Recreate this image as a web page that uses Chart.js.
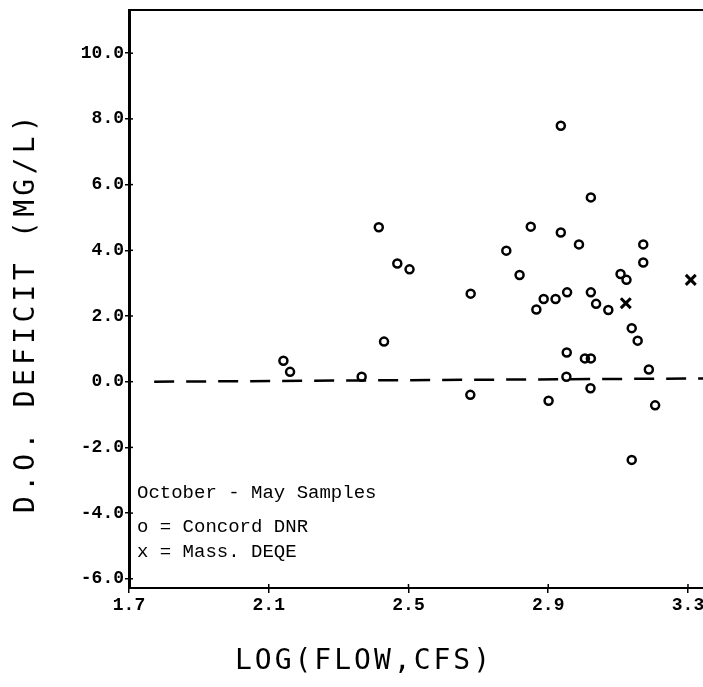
<!DOCTYPE html>
<html>
<head>
<meta charset="utf-8">
<script src="https://cdn.jsdelivr.net/npm/chart.js@4/dist/chart.umd.min.js"></script>
<style>
html,body{margin:0;padding:0;background:#fff;}
canvas{display:block;}
</style>
</head>
<body>
<canvas id="c" width="703" height="687"></canvas>
<script>
// ---- data ----
const xTicks = [1.7, 2.1, 2.5, 2.9, 3.3];
const yTicks = [-6, -4, -2, 0, 2, 4, 6, 8, 10];

// Concord DNR (o)
const dnrLogFlow = [2.142, 2.161, 2.366, 2.430, 2.415, 2.468, 2.503, 2.678, 2.677, 2.780,
                    2.818, 2.850, 2.866, 2.887, 2.921, 2.901, 2.936, 2.936, 2.954, 2.953,
                    2.952, 2.988, 3.005, 3.022, 3.021, 3.022, 3.022, 3.037, 3.072, 3.107,
                    3.124, 3.139, 3.156, 3.139, 3.172, 3.172, 3.188, 3.206];
const dnrDeficit = [0.64, 0.30, 0.15, 1.22, 4.70, 3.60, 3.42, 2.68, -0.40, 3.99,
                    3.25, 4.72, 2.20, 2.52, 2.52, -0.58, 7.79, 4.54, 2.72, 0.89,
                    0.15, 4.18, 0.71, 0.71, -0.20, 5.61, 2.72, 2.37, 2.18, 3.28,
                    3.10, 1.63, 1.25, -2.38, 4.18, 3.63, 0.37, -0.72];

// Mass. DEQE (x)
const deqeLogFlow = [3.122, 3.308];
const deqeDeficit = [2.39, 3.10];

// dashed reference line
const refLogFlow = [1.772, 3.343];
const refDeficit = [0.0, 0.1];

const xTitle = 'LOG(FLOW,CFS)';
const yTitle = 'D.O. DEFICIT (MG/L)';
const legendLines = ['October - May Samples', 'o = Concord DNR', 'x = Mass. DEQE'];

const toPts = (xs, ys) => xs.map((x, i) => ({x: x, y: ys[i]}));

const tickFont = {family: '"Liberation Mono", "Courier New", monospace', size: 18, weight: 'bold'};

const decorPlugin = {
  id: 'decor',
  afterDraw(chart) {
    const ctx = chart.ctx;
    const a = chart.chartArea;
    const xs = chart.scales.x, ys = chart.scales.y;
    ctx.save();
    ctx.strokeStyle = '#000';
    ctx.fillStyle = '#000';
    // top frame line
    ctx.lineWidth = 2;
    ctx.beginPath();
    ctx.moveTo(a.left, a.top);
    ctx.lineTo(a.right, a.top);
    ctx.stroke();
    // inner halves of the tick crosses
    ctx.lineWidth = 1.5;
    ys.ticks.forEach(t => {
      const py = ys.getPixelForValue(t.value);
      ctx.beginPath(); ctx.moveTo(a.left, py); ctx.lineTo(a.left + 4, py); ctx.stroke();
    });
    xs.ticks.forEach(t => {
      const px = xs.getPixelForValue(t.value);
      ctx.beginPath(); ctx.moveTo(px, a.bottom); ctx.lineTo(px, a.bottom - 4); ctx.stroke();
    });
    // axis titles
    ctx.font = '28px "DejaVu Sans Mono", monospace';
    ctx.textAlign = 'center';
    ctx.textBaseline = 'middle';
    ctx.letterSpacing = '3px';
    ctx.fillText(xTitle, 364, 662);
    ctx.save();
    ctx.letterSpacing = '4.3px';
    ctx.translate(27, 312);
    ctx.rotate(-Math.PI / 2);
    ctx.fillText(yTitle, 0, 0);
    ctx.restore();
    // legend text
    ctx.letterSpacing = '0px';
    ctx.font = '19px "Liberation Mono", "Courier New", monospace';
    ctx.textAlign = 'left';
    const ly = [493, 527, 552];
    legendLines.forEach((s, i) => ctx.fillText(s, 137, ly[i]));
    ctx.restore();
  }
};

new Chart(document.getElementById('c'), {
  type: 'scatter',
  data: {
    datasets: [
      {
        label: 'Concord DNR',
        data: toPts(dnrLogFlow, dnrDeficit),
        pointStyle: 'circle',
        pointRadius: 4,
        pointBorderWidth: 2.5,
        borderColor: '#000',
        backgroundColor: 'rgba(255,255,255,0)',
        showLine: false
      },
      {
        label: 'Mass. DEQE',
        data: toPts(deqeLogFlow, deqeDeficit),
        pointStyle: 'crossRot',
        pointRadius: 7,
        pointBorderWidth: 3,
        borderColor: '#000',
        backgroundColor: '#000',
        showLine: false
      },
      {
        label: 'zero',
        type: 'line',
        data: toPts(refLogFlow, refDeficit),
        borderColor: '#000',
        borderWidth: 2.5,
        borderDash: [20, 12],
        pointRadius: 0,
        fill: false
      }
    ]
  },
  options: {
    responsive: false,
    animation: false,
    devicePixelRatio: 1,
    layout: {autoPadding: false, padding: {top: 10, right: 0, left: 0, bottom: 0}},
    plugins: {legend: {display: false}, tooltip: {enabled: false}},
    scales: {
      x: {
        type: 'linear',
        min: 1.7,
        max: 3.343,
        afterBuildTicks: s => { s.ticks = xTicks.map(v => ({value: v})); },
        afterFit: s => { s.height = 99; s.paddingRight = 0; s.paddingLeft = 0; },
        ticks: {
          font: tickFont, color: '#000', padding: 2, maxRotation: 0, autoSkip: false,
          callback: v => Number(v).toFixed(1)
        },
        grid: {drawOnChartArea: false, tickLength: 5, color: '#000', lineWidth: 1.5},
        border: {color: '#000', width: 2}
      },
      y: {
        type: 'linear',
        min: -6.28,
        max: 11.315,
        afterBuildTicks: s => { s.ticks = yTicks.map(v => ({value: v})); },
        afterFit: s => { s.width = 129; s.paddingTop = 0; s.paddingBottom = 0; },
        ticks: {
          font: tickFont, color: '#000', padding: 1, autoSkip: false,
          callback: v => Number(v).toFixed(1)
        },
        grid: {drawOnChartArea: false, tickLength: 4, color: '#000', lineWidth: 1.5},
        border: {color: '#000', width: 3}
      }
    }
  },
  plugins: [decorPlugin]
});
</script>
</body>
</html>
